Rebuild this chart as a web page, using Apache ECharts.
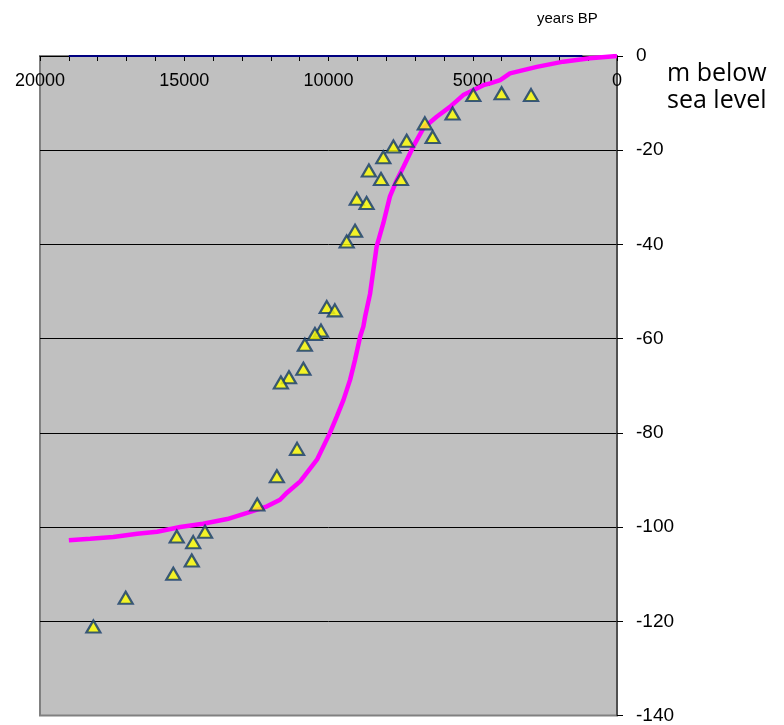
<!DOCTYPE html>
<html>
<head>
<meta charset="utf-8">
<script src="https://cdn.jsdelivr.net/npm/echarts@6/dist/echarts.min.js"></script>
<style>html,body{margin:0;padding:0;background:#fff}#c{width:784px;height:725px}</style>
</head>
<body>
<div id="c"></div>
<script>
// years BP vs sea level (m)
const xTickLabels = [20000, 15000, 10000, 5000, 0];
const yTickLabels = [0, -20, -40, -60, -80, -100, -120, -140];

const curveYears = [19000, 18260, 17460, 16630, 15940, 15140, 14350, 13510, 12820, 12130, 11680, 11440, 10980, 10400, 9950, 9710, 9480, 9250, 9080, 8900, 8790, 8730, 8560, 8330, 8100, 7870, 7630, 7400, 7060, 6710, 6250, 5790, 5330, 4630, 4400, 4050, 3710, 2780, 1860, 940, 0];
const curveDepths = [-102.8, -102.5, -102.1, -101.4, -101.0, -100.0, -99.3, -98.3, -97.0, -95.6, -94.2, -92.7, -90.3, -85.7, -80.0, -76.5, -73.0, -68.7, -64.5, -59.5, -57.4, -55.3, -50.5, -40.4, -35.5, -29.8, -26.3, -23.5, -19.2, -15.3, -12.9, -10.8, -8.3, -6.2, -5.8, -5.1, -3.7, -2.3, -1.2, -0.5, 0];

const pointYears = [2980, 4000, 4980, 5700, 6660, 6390, 7290, 7750, 8100, 8600, 8180, 7490, 9020, 8680, 9080, 9370, 10060, 9780, 10260, 10470, 10820, 10870, 11370, 11650, 11090, 11790, 12470, 14280, 15260, 14690, 14740, 15380, 17030, 18150];
const pointDepths = [-8.3, -7.9, -8.3, -12.2, -14.3, -17.2, -18.0, -19.2, -21.5, -24.3, -26.1, -26.1, -30.3, -31.2, -37.1, -39.4, -53.3, -54.0, -58.3, -59.0, -61.3, -66.4, -68.2, -69.3, -83.4, -89.2, -95.2, -101.0, -102.0, -103.2, -107.1, -109.9, -115.0, -121.1];

const baseYears = [19000, 1200];
const baseDepths = [0, 0];

const zip = (a, b) => a.map((v, i) => [v, b[i]]);

const chart = echarts.init(document.getElementById('c'));
chart.setOption({
  animation: false,
  grid: {
    left: 40, right: 167, top: 56, bottom: 9,
    show: true, backgroundColor: '#C0C0C0', borderColor: '#808080', borderWidth: 2
  },
  xAxis: {
    type: 'value', min: 0, max: 20000, interval: 1000, inverse: true, position: 'top',
    axisLine: { show: true, lineStyle: { color: '#000', width: 1 } },
    axisTick: { show: true, inside: true, length: 5, lineStyle: { color: '#000' } },
    axisLabel: {
      inside: true, margin: 16, color: '#000', fontSize: 18, fontFamily: 'Liberation Sans, Arial',
      formatter: v => xTickLabels.indexOf(v) >= 0 ? String(v) : ''
    },
    splitLine: { show: false }
  },
  yAxis: {
    type: 'value', min: -140, max: 0, interval: 20, position: 'right',
    axisLine: { show: true, lineStyle: { color: '#404040', width: 1.5 } },
    axisTick: { show: true, length: 6, lineStyle: { color: '#000' } },
    axisLabel: {
      margin: 19, color: '#000', fontSize: 19, fontFamily: 'Liberation Sans, Arial',
      formatter: v => yTickLabels.indexOf(v) >= 0 ? String(v) : ''
    },
    splitLine: { show: true, showMinLine: false, showMaxLine: false, lineStyle: { color: '#000', width: 1 } }
  },
  graphic: [
    { type: 'text', left: 537, top: 11, style: { text: 'years BP', fill: '#000', font: '15px "Liberation Sans", Arial' } },
    { type: 'text', left: 667, top: 60, style: { text: 'm below\nsea level', fill: '#000', font: '25px "Open Sans"', lineHeight: 27 } }
  ],
  series: [
    {
      type: 'line', data: zip(baseYears, baseDepths), symbol: 'none',
      lineStyle: { color: '#000080', width: 2 }, z: 2
    },
    {
      type: 'line', data: zip(curveYears, curveDepths), symbol: 'none',
      lineStyle: { color: '#FF00FF', width: 4.5 }, z: 3
    },
    {
      type: 'scatter', data: zip(pointYears, pointDepths), symbol: 'triangle', symbolSize: [14, 12],
      itemStyle: { color: '#FFFF00', borderColor: '#123A6B', borderWidth: 2.2 }, z: 4
    }
  ]
});
</script>
</body>
</html>
